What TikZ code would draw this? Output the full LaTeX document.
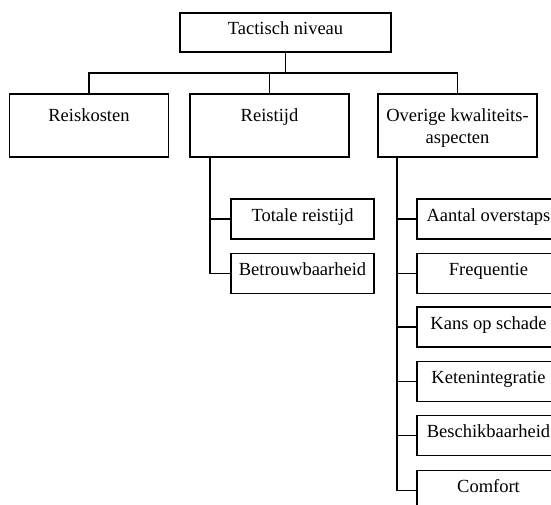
\documentclass[tikz,border=0pt]{standalone}
\usepackage{fontspec}
\setmainfont{Liberation Serif}
\begin{document}
\begin{tikzpicture}[x=1pt,y=-1pt,
  every node/.style={font=\fontsize{18.5}{22}\selectfont},
  box/.style={draw=black, line width=1.8pt, inner sep=0pt, fill=white},
  topbox/.style={box, minimum width=211pt, minimum height=39pt,
    text height=0.7em, text depth=0.25em},
  mainbox/.style={box, minimum width=159pt, minimum height=63pt,
    text height=27pt, text depth=36pt},
  subbox/.style={box, minimum width=143pt, minimum height=40pt,
    text height=0.7em, text depth=0.25em},
  link/.style={draw=black, line width=1.8pt}]
\useasboundingbox (0,0) rectangle (551,504);
\clip (0,0) rectangle (551,504);
\fill[white] (0,0) rectangle (551,504);

% top level
\node[topbox] (top) at (285.5,32.5) {Tactisch niveau};

% second level
\node[mainbox] (kosten) at (89,125.5) {Reiskosten};
\node[mainbox] (tijd) at (269.5,125.5) {Reistijd};
\node[mainbox] (overig) at (457.5,125.5)
  {\begin{tabular}[t]{@{}c@{}}Overige kwaliteits-\\aspecten\end{tabular}};

% bus between the levels
\coordinate (bus) at (top.south |- 0,73);
\path[link] (top.south) -- (bus);
\path[link] (kosten.north) |- (bus) -| (overig.north);
\path[link] (tijd.north) -- (tijd.north |- bus);

% travel time breakdown
\node[subbox] (totaal) at (302.5,219) {Totale reistijd};
\node[subbox] (betr) at (302.5,273.5) {Betrouwbaarheid};
\coordinate (tspine) at (210,157);
\path[link] (tspine) |- (betr.west);
\path[link] (tspine |- totaal.west) -- (totaal.west);

% other quality aspects
\node[subbox] (overst) at (488.5,219) {Aantal overstaps};
\node[subbox] (freq) at (488.5,273.5) {Frequentie};
\node[subbox] (schade) at (488.5,327) {Kans op schade};
\node[subbox] (keten) at (488.5,381.5) {Ketenintegratie};
\node[subbox] (besch) at (488.5,435.5) {Beschikbaarheid};
\node[subbox] (comf) at (488.5,490.5) {Comfort};
\coordinate (ospine) at (397,157);
\path[link] (ospine) |- (comf.west);
\foreach \n in {overst,freq,schade,keten,besch}
  \path[link] (ospine |- \n.west) -- (\n.west);
\end{tikzpicture}
\end{document}
